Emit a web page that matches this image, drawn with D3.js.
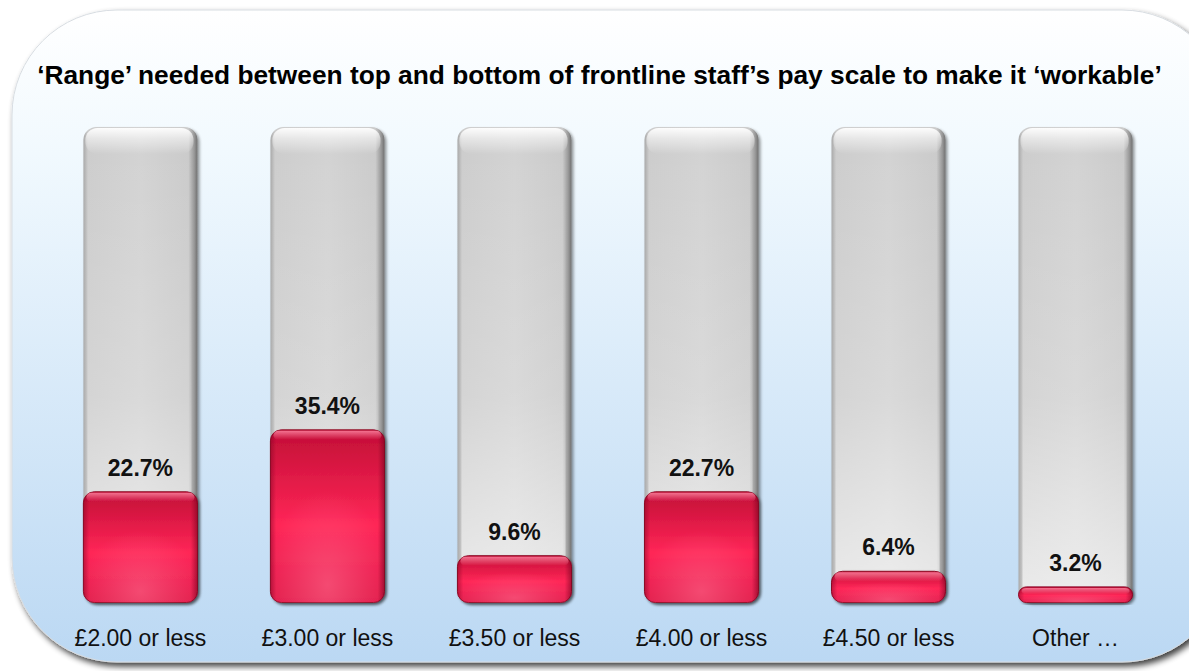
<!DOCTYPE html>
<html>
<head>
<meta charset="utf-8">
<script src="https://cdn.jsdelivr.net/npm/d3@7"></script>
<style>
  html, body { margin: 0; padding: 0; background: #ffffff; }
  svg { display: block; }
</style>
</head>
<body>
<svg id="chart" width="1189" height="671"></svg>
<script>
// Survey answers: pay-scale range considered workable
const categories = ["£2.00 or less", "£3.00 or less", "£3.50 or less", "£4.00 or less", "£4.50 or less", "Other …"];
const shares = [22.7, 35.4, 9.6, 22.7, 6.4, 3.2];
const valueLabels = ["22.7%", "35.4%", "9.6%", "22.7%", "6.4%", "3.2%"];
const trackMax = [97.5];   // height of the grey track in percentage points
const titleText = ["‘Range’ needed between top and bottom of frontline staff’s pay scale to make it ‘workable’"];

const FONT = "Arial, 'Liberation Sans', sans-serif";
const svg = d3.select("#chart");
const defs = svg.append("defs");

// ---- gradients and filters ----
const panelGrad = defs.append("linearGradient").attr("id", "panelGrad")
  .attr("x1", 0).attr("y1", 0).attr("x2", 0).attr("y2", 1);
panelGrad.append("stop").attr("offset", "0%").attr("stop-color", "#ffffff");
panelGrad.append("stop").attr("offset", "22%").attr("stop-color", "#f1f9fe");
panelGrad.append("stop").attr("offset", "100%").attr("stop-color", "#bbd8f3");

const shadow = defs.append("filter").attr("id", "panelShadow")
  .attr("x", "-5%").attr("y", "-5%").attr("width", "115%").attr("height", "115%");
shadow.append("feGaussianBlur").attr("in", "SourceAlpha").attr("stdDeviation", 3).attr("result", "b");
shadow.append("feOffset").attr("in", "b").attr("dx", 3).attr("dy", 4).attr("result", "o");
shadow.append("feComponentTransfer").attr("in", "o").attr("result", "s")
  .append("feFuncA").attr("type", "linear").attr("slope", 0.75);
const sm = shadow.append("feMerge");
sm.append("feMergeNode").attr("in", "s");
sm.append("feMergeNode").attr("in", "SourceGraphic");

const barShadow = defs.append("filter").attr("id", "barShadow")
  .attr("x", "-10%").attr("y", "-10%").attr("width", "125%").attr("height", "125%");
barShadow.append("feGaussianBlur").attr("in", "SourceAlpha").attr("stdDeviation", 1.5).attr("result", "b");
barShadow.append("feOffset").attr("in", "b").attr("dx", 1.5).attr("dy", 1.5).attr("result", "o");
barShadow.append("feComponentTransfer").attr("in", "o").attr("result", "s")
  .append("feFuncA").attr("type", "linear").attr("slope", 0.4);
const bm = barShadow.append("feMerge");
bm.append("feMergeNode").attr("in", "s");
bm.append("feMergeNode").attr("in", "SourceGraphic");

// grey track: darker right edge
const trackGrad = defs.append("linearGradient").attr("id", "trackGrad")
  .attr("x1", 0).attr("y1", 0).attr("x2", 1).attr("y2", 0);
[["0%", "#a9a9a9"], ["4%", "#cdcdcd"], ["50%", "#d3d3d3"], ["92%", "#cbcbcb"], ["97%", "#9a9a9a"], ["100%", "#707070"]]
  .forEach(([o, c]) => trackGrad.append("stop").attr("offset", o).attr("stop-color", c));
const trackTop = defs.append("linearGradient").attr("id", "trackTop")
  .attr("x1", 0).attr("y1", 0).attr("x2", 0).attr("y2", 1);
[["0%", "#ffffff", 0.95], ["40%", "#ffffff", 0.5], ["100%", "#ffffff", 0]]
  .forEach(([o, c, a]) => trackTop.append("stop").attr("offset", o).attr("stop-color", c).attr("stop-opacity", a));
// lighter lower part of the track behind the value labels
const trackFade = defs.append("linearGradient").attr("id", "trackFade")
  .attr("x1", 0).attr("y1", 0).attr("x2", 0).attr("y2", 1);
[["0%", "#ffffff", 0], ["55%", "#ffffff", 0.15], ["100%", "#ffffff", 0.6]]
  .forEach(([o, c, a]) => trackFade.append("stop").attr("offset", o).attr("stop-color", c).attr("stop-opacity", a));

// red bar body
const redGrad = defs.append("linearGradient").attr("id", "redGrad")
  .attr("x1", 0).attr("y1", 0).attr("x2", 0).attr("y2", 1);
[["0%", "#c20e36"], ["55%", "#ff2657"], ["100%", "#e0194a"]]
  .forEach(([o, c]) => redGrad.append("stop").attr("offset", o).attr("stop-color", c));
const redSide = defs.append("linearGradient").attr("id", "redSide")
  .attr("x1", 0).attr("y1", 0).attr("x2", 1).attr("y2", 0);
[["0%", "#7a0020", 0.45], ["5%", "#7a0020", 0], ["94%", "#7a0020", 0], ["100%", "#6a001a", 0.55]]
  .forEach(([o, c, a]) => redSide.append("stop").attr("offset", o).attr("stop-color", c).attr("stop-opacity", a));
const redGlow = defs.append("radialGradient").attr("id", "redGlow")
  .attr("cx", "50%").attr("cy", "90%").attr("r", "55%");
redGlow.append("stop").attr("offset", "0%").attr("stop-color", "#ff6f90").attr("stop-opacity", 0.55);
redGlow.append("stop").attr("offset", "100%").attr("stop-color", "#ff6f90").attr("stop-opacity", 0);
const redTop = defs.append("linearGradient").attr("id", "redTop")
  .attr("x1", 0).attr("y1", 0).attr("x2", 0).attr("y2", 1);
[["0%", "#ff8aa5", 0.8], ["100%", "#ff8aa5", 0]]
  .forEach(([o, c, a]) => redTop.append("stop").attr("offset", o).attr("stop-color", c).attr("stop-opacity", a));

// ---- background panel ----
svg.append("rect")
  .attr("x", 12).attr("y", 10).attr("width", 1215).attr("height", 652)
  .attr("rx", 105).attr("ry", 105)
  .attr("fill", "url(#panelGrad)")
  .attr("stroke", "#d8dde2").attr("stroke-width", 1)
  .attr("filter", "url(#panelShadow)");

// ---- title, sized to span the panel ----
const title = svg.append("text")
  .attr("x", 599.5).attr("y", 84)
  .attr("text-anchor", "middle")
  .attr("font-family", FONT)
  .attr("font-weight", "bold")
  .attr("font-size", 25)
  .attr("fill", "#000")
  .text(titleText[0]);
const tw = title.node().getComputedTextLength();
title.attr("font-size", 25 * 1125 / tw);

// ---- scales ----
const x = d3.scaleBand().domain(categories).range([46, 1170]).paddingInner(0.39).paddingOuter(0.2);
const y = d3.scaleLinear().domain([0, trackMax[0]]).range([602.5, 127]);

const g = svg.append("g");
const bars = g.selectAll("g.bar").data(categories).join("g").attr("class", "bar")
  .attr("transform", d => `translate(${x(d)},0)`);
const bw = x.bandwidth();

// grey tracks
bars.append("rect")
  .attr("x", 0).attr("y", y(trackMax[0])).attr("width", bw).attr("height", y(0) - y(trackMax[0]))
  .attr("rx", 13).attr("fill", "url(#trackGrad)")
  .attr("filter", "url(#barShadow)");
bars.append("rect")
  .attr("x", 4).attr("y", y(trackMax[0]) + 20).attr("width", bw - 10).attr("height", y(0) - y(trackMax[0]) - 22)
  .attr("fill", "url(#trackFade)");
bars.append("rect")
  .attr("x", 2).attr("y", y(trackMax[0]) + 1).attr("width", bw - 6).attr("height", 26)
  .attr("rx", 12).attr("fill", "url(#trackTop)");

// red value bars
const red = bars.append("g");
const rr = (d, i) => Math.min(11, (y(0) - y(shares[i])) / 2);
red.append("rect")
  .attr("x", 0).attr("y", (d, i) => y(shares[i])).attr("width", bw)
  .attr("height", (d, i) => y(0) - y(shares[i]))
  .attr("rx", rr)
  .attr("fill", "url(#redGrad)")
  .attr("stroke", "#8e0a28").attr("stroke-width", 1)
  .attr("filter", "url(#barShadow)");
red.append("rect")
  .attr("x", 0).attr("y", (d, i) => y(shares[i])).attr("width", bw)
  .attr("height", (d, i) => y(0) - y(shares[i]))
  .attr("rx", rr)
  .attr("fill", "url(#redGlow)");
red.append("rect")
  .attr("x", 0).attr("y", (d, i) => y(shares[i])).attr("width", bw)
  .attr("height", (d, i) => y(0) - y(shares[i]))
  .attr("rx", rr)
  .attr("fill", "url(#redSide)");
red.append("rect")
  .attr("x", 3).attr("y", (d, i) => y(shares[i]) + 1).attr("width", bw - 6)
  .attr("height", (d, i) => Math.min(9, (y(0) - y(shares[i])) / 2.5))
  .attr("rx", 5)
  .attr("fill", "url(#redTop)");

// value labels
bars.append("text")
  .attr("x", bw / 2).attr("y", (d, i) => y(shares[i]) - 16)
  .attr("text-anchor", "middle")
  .attr("font-family", FONT)
  .attr("font-weight", "bold").attr("font-size", 23)
  .attr("fill", "#111")
  .text((d, i) => valueLabels[i]);

// category axis labels
const axis = d3.axisBottom(x).tickSize(0).tickPadding(0);
const ax = svg.append("g").attr("transform", "translate(0,646)").call(axis);
ax.select(".domain").remove();
ax.selectAll("text")
  .attr("font-family", FONT)
  .attr("font-size", 23).attr("fill", "#111")
  .attr("y", 0).attr("dy", 0);
</script>
</body>
</html>
